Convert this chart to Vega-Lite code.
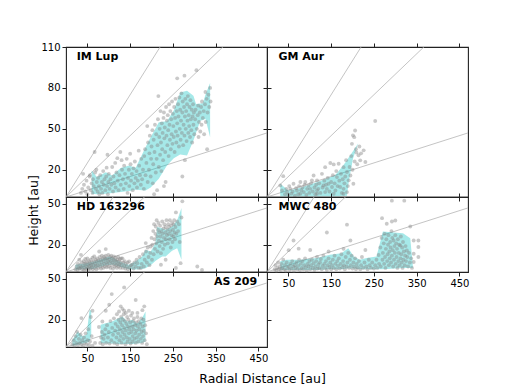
{
"$schema": "https://vega.github.io/schema/vega-lite/v6.json",
"padding": {"left": 26, "top": 41, "right": 5, "bottom": 5},
"config": {
 "font": "DejaVu Sans",
 "view": {"stroke": "#222", "strokeWidth": 1.1},
 "axis": {"domain": false, "grid": false, "tickColor": "#222", "tickSize": 4, "tickWidth": 1, "labelFontSize": 10, "labelColor": "#000", "labelPadding": 2, "labelOverlap": false, "titleFontSize": 12.5, "titleFontWeight": "normal", "titleColor": "#000"},
 "circle": {"size": 15, "color": "#888", "opacity": 0.45, "clip": true},
 "concat": {"spacing": 0}
},
"datasets": {
 "lines": [{"hr":"0.5","r":0,"h":0},{"hr":"0.5","r":470,"h":235},{"hr":"0.3","r":0,"h":0},{"hr":"0.3","r":470,"h":141},{"hr":"0.1","r":0,"h":0},{"hr":"0.1","r":470,"h":47}],
 "band": [
  {"disk":"IM Lup","seg":1,"r":60,"lo":2.4,"hi":19.5},{"disk":"IM Lup","seg":1,"r":72,"lo":2.0,"hi":14.6},{"disk":"IM Lup","seg":1,"r":93,"lo":2.4,"hi":18.2},{"disk":"IM Lup","seg":1,"r":108,"lo":3.0,"hi":15.8},{"disk":"IM Lup","seg":1,"r":128,"lo":3.7,"hi":21.2},{"disk":"IM Lup","seg":1,"r":147,"lo":4.4,"hi":23.1},{"disk":"IM Lup","seg":1,"r":163,"lo":5.3,"hi":21.5},{"disk":"IM Lup","seg":1,"r":186,"lo":4.8,"hi":36.5},{"disk":"IM Lup","seg":1,"r":198,"lo":7.0,"hi":43.8},{"disk":"IM Lup","seg":1,"r":217,"lo":13.4,"hi":54.9},{"disk":"IM Lup","seg":1,"r":236,"lo":23.1,"hi":55.6},{"disk":"IM Lup","seg":1,"r":252,"lo":28.5,"hi":63.4},{"disk":"IM Lup","seg":1,"r":267,"lo":31.2,"hi":76.7},{"disk":"IM Lup","seg":1,"r":283,"lo":30.4,"hi":78.0},{"disk":"IM Lup","seg":1,"r":298,"lo":41.4,"hi":74.3},{"disk":"IM Lup","seg":1,"r":304,"lo":47.0,"hi":68.2},{"disk":"IM Lup","seg":1,"r":314,"lo":56.0,"hi":68.5},{"disk":"IM Lup","seg":1,"r":320,"lo":56.5,"hi":68.7},{"disk":"IM Lup","seg":1,"r":326,"lo":57.3,"hi":75.0},{"disk":"IM Lup","seg":1,"r":337,"lo":43.8,"hi":83.6},
  {"disk":"GM Aur","seg":1,"r":31,"lo":0.5,"hi":9.7},{"disk":"GM Aur","seg":1,"r":50,"lo":0.5,"hi":4.8},{"disk":"GM Aur","seg":1,"r":78,"lo":0.5,"hi":6.8},{"disk":"GM Aur","seg":1,"r":116,"lo":0.5,"hi":10.9},{"disk":"GM Aur","seg":1,"r":159,"lo":0.5,"hi":15.8},{"disk":"GM Aur","seg":1,"r":178,"lo":0.8,"hi":23.1},{"disk":"GM Aur","seg":1,"r":187,"lo":1.0,"hi":27},{"disk":"GM Aur","seg":1,"r":191,"lo":10.9,"hi":29},{"disk":"GM Aur","seg":1,"r":201,"lo":28,"hi":33.5},{"disk":"GM Aur","seg":1,"r":213,"lo":39,"hi":39.2},
  {"disk":"HD 163296","seg":1,"r":22,"lo":1.7,"hi":5.3},{"disk":"HD 163296","seg":1,"r":46,"lo":2.2,"hi":6.5},{"disk":"HD 163296","seg":1,"r":62,"lo":2.2,"hi":7.5},{"disk":"HD 163296","seg":1,"r":77,"lo":3.4,"hi":9},{"disk":"HD 163296","seg":1,"r":89,"lo":4.6,"hi":10.2},{"disk":"HD 163296","seg":1,"r":101,"lo":5.3,"hi":11.4},{"disk":"HD 163296","seg":1,"r":112,"lo":5.3,"hi":10.2},{"disk":"HD 163296","seg":1,"r":124,"lo":4.1,"hi":7.8},{"disk":"HD 163296","seg":1,"r":136,"lo":3.0,"hi":6.5},{"disk":"HD 163296","seg":1,"r":147,"lo":2.0,"hi":5.3},{"disk":"HD 163296","seg":1,"r":163,"lo":1.8,"hi":7.8},{"disk":"HD 163296","seg":1,"r":178,"lo":2.2,"hi":11.4},{"disk":"HD 163296","seg":1,"r":186,"lo":2.8,"hi":16.3},{"disk":"HD 163296","seg":1,"r":198,"lo":5,"hi":15},{"disk":"HD 163296","seg":1,"r":209,"lo":8,"hi":21},{"disk":"HD 163296","seg":1,"r":213,"lo":9,"hi":33},{"disk":"HD 163296","seg":1,"r":225,"lo":11.4,"hi":32},{"disk":"HD 163296","seg":1,"r":233,"lo":11.4,"hi":31},{"disk":"HD 163296","seg":1,"r":248,"lo":15.5,"hi":33.4},{"disk":"HD 163296","seg":1,"r":260,"lo":17.5,"hi":38},{"disk":"HD 163296","seg":1,"r":270,"lo":9,"hi":47},
  {"disk":"MWC 480","seg":1,"r":31,"lo":1.5,"hi":7.8},{"disk":"MWC 480","seg":1,"r":46,"lo":1.5,"hi":9},{"disk":"MWC 480","seg":1,"r":78,"lo":1.5,"hi":9},{"disk":"MWC 480","seg":1,"r":116,"lo":1.5,"hi":10.2},{"disk":"MWC 480","seg":1,"r":147,"lo":2,"hi":12.6},{"disk":"MWC 480","seg":1,"r":174,"lo":2,"hi":13.8},{"disk":"MWC 480","seg":1,"r":190,"lo":2.5,"hi":17.5},{"disk":"MWC 480","seg":1,"r":203,"lo":2.5,"hi":11.4},{"disk":"MWC 480","seg":1,"r":217,"lo":2,"hi":9},{"disk":"MWC 480","seg":1,"r":233,"lo":2,"hi":10.2},{"disk":"MWC 480","seg":1,"r":256,"lo":2,"hi":11.4},{"disk":"MWC 480","seg":1,"r":264,"lo":2,"hi":21},{"disk":"MWC 480","seg":1,"r":271,"lo":2,"hi":29.7},{"disk":"MWC 480","seg":1,"r":318,"lo":3,"hi":28.5},{"disk":"MWC 480","seg":1,"r":335,"lo":3,"hi":24.8},{"disk":"MWC 480","seg":1,"r":341,"lo":3,"hi":4.5},
  {"disk":"AS 209","seg":1,"r":15,"lo":1,"hi":5},{"disk":"AS 209","seg":1,"r":27,"lo":1.5,"hi":11.4},{"disk":"AS 209","seg":1,"r":39,"lo":2.5,"hi":7.8},{"disk":"AS 209","seg":1,"r":48,"lo":3,"hi":9},{"disk":"AS 209","seg":1,"r":55,"lo":4,"hi":27},{"disk":"AS 209","seg":1,"r":59,"lo":9,"hi":27},
  {"disk":"AS 209","seg":2,"r":81,"lo":2.9,"hi":16.3},{"disk":"AS 209","seg":2,"r":93,"lo":2.5,"hi":17.5},{"disk":"AS 209","seg":2,"r":108,"lo":2.5,"hi":18.7},{"disk":"AS 209","seg":2,"r":124,"lo":2.2,"hi":21.2},{"disk":"AS 209","seg":2,"r":132,"lo":2.2,"hi":22.4},{"disk":"AS 209","seg":2,"r":143,"lo":2.2,"hi":18.7},{"disk":"AS 209","seg":2,"r":155,"lo":2.2,"hi":20},{"disk":"AS 209","seg":2,"r":167,"lo":2.5,"hi":17.5},{"disk":"AS 209","seg":2,"r":178,"lo":2.9,"hi":21.2},{"disk":"AS 209","seg":2,"r":186,"lo":4.1,"hi":26}
 ],
 "imlup": [{"r":35,"h":3},{"r":38,"h":6},{"r":40,"h":17},{"r":42,"h":9},{"r":45,"h":4},{"r":48,"h":12},{"r":50,"h":2},{"r":52,"h":7},{"r":55,"h":15},{"r":56,"h":16},{"r":58,"h":5},{"r":60,"h":10},{"r":62,"h":3},{"r":63,"h":13},{"r":65,"h":8},{"r":67,"h":33},{"r":68,"h":18},{"r":70,"h":6},{"r":71,"h":20},{"r":72,"h":11},{"r":74,"h":4},{"r":75,"h":14},{"r":77,"h":8},{"r":78,"h":2},{"r":80,"h":16},{"r":82,"h":6},{"r":84,"h":11},{"r":85,"h":3},{"r":87,"h":19},{"r":88,"h":9},{"r":90,"h":13},{"r":92,"h":5},{"r":94,"h":15},{"r":95,"h":21.5},{"r":96,"h":8},{"r":97,"h":31},{"r":98,"h":2},{"r":99,"h":11},
  {"r":100,"h":17},{"r":102,"h":6},{"r":104,"h":13},{"r":106,"h":9},{"r":108,"h":22},{"r":110,"h":4},{"r":111,"h":15},{"r":113,"h":10},{"r":115,"h":25},{"r":116,"h":7},{"r":118,"h":18},{"r":120,"h":28.5},{"r":121,"h":12},{"r":123,"h":5},{"r":125,"h":16},{"r":127,"h":33},{"r":128,"h":9},{"r":130,"h":27},{"r":131,"h":20},{"r":133,"h":13},{"r":135,"h":6},{"r":136,"h":23},{"r":138,"h":17},{"r":140,"h":10},{"r":142,"h":28},{"r":144,"h":3},{"r":145,"h":14},{"r":147,"h":20},{"r":148,"h":8},{"r":150,"h":31.7},{"r":151,"h":24},{"r":152,"h":12},{"r":154,"h":17},{"r":156,"h":5},{"r":158,"h":21},{"r":160,"h":10},{"r":161,"h":26},{"r":163,"h":14},{"r":165,"h":19},{"r":166,"h":7},{"r":168,"h":12},{"r":170,"h":34},{"r":171,"h":23},{"r":173,"h":16},{"r":175,"h":9},{"r":176,"h":28},{"r":178,"h":13},{"r":180,"h":20},
  {"r":182,"h":6},{"r":183,"h":30},{"r":185,"h":35},{"r":186,"h":16},{"r":188,"h":25},{"r":190,"h":52},{"r":191,"h":11},{"r":192,"h":40},{"r":194,"h":20},{"r":195,"h":32},{"r":196,"h":45},{"r":198,"h":15},{"r":199,"h":28},{"r":200,"h":37},{"r":202,"h":49},{"r":203,"h":10},{"r":204,"h":24},{"r":205,"h":42},{"r":206,"h":2},{"r":207,"h":33},{"r":208,"h":53},{"r":210,"h":18},{"r":211,"h":46},{"r":212,"h":28},{"r":213,"h":5},{"r":214,"h":38},{"r":215,"h":57},{"r":216,"h":74},{"r":217,"h":22},{"r":218,"h":44},{"r":219,"h":50},{"r":220,"h":31},
  {"r":221,"h":63},{"r":222,"h":40},{"r":223,"h":19},{"r":224,"h":54},{"r":225,"h":35},{"r":226,"h":47},{"r":227,"h":27},{"r":228,"h":58},{"r":229,"h":8},{"r":229,"h":62},{"r":230,"h":43},{"r":231,"h":51},{"r":232,"h":33},{"r":233,"h":11},{"r":234,"h":66},{"r":235,"h":45},{"r":236,"h":56},{"r":237,"h":38},{"r":238,"h":60},{"r":239,"h":49},{"r":240,"h":30},{"r":241,"h":68},{"r":242,"h":53},{"r":243,"h":42},{"r":244,"h":63},{"r":245,"h":35},{"r":246,"h":57},{"r":247,"h":46},{"r":248,"h":70},{"r":249,"h":39},{"r":250,"h":61},{"r":251,"h":52},{"r":252,"h":44},{"r":253,"h":66},{"r":254,"h":33},{"r":255,"h":58},{"r":256,"h":72},{"r":257,"h":48},{"r":258,"h":40},{"r":259,"h":63},{"r":260,"h":87},{"r":260,"h":54},
  {"r":261,"h":45},{"r":262,"h":68},{"r":263,"h":59},{"r":264,"h":37},{"r":265,"h":73},{"r":266,"h":50},{"r":267,"h":64},{"r":268,"h":42},{"r":269,"h":56},{"r":270,"h":76},{"r":271,"h":47},{"r":272,"h":15},{"r":272,"h":62},{"r":273,"h":70},{"r":274,"h":38},{"r":275,"h":53},{"r":276,"h":66},{"r":277,"h":89},{"r":277,"h":45},{"r":278,"h":27},{"r":278,"h":59},{"r":279,"h":72},{"r":280,"h":50},{"r":281,"h":63},{"r":282,"h":41},{"r":283,"h":68},{"r":284,"h":56},{"r":285,"h":74},{"r":286,"h":47},{"r":287,"h":60},{"r":288,"h":52},{"r":289,"h":66},{"r":290,"h":44},{"r":291,"h":71},{"r":292,"h":57},{"r":293,"h":49},{"r":294,"h":64},{"r":295,"h":40},{"r":296,"h":59},{"r":297,"h":68},{"r":298,"h":53},{"r":299,"h":62},{"r":300,"h":46},
  {"r":302,"h":57},{"r":303,"h":64},{"r":305,"h":93},{"r":306,"h":50},{"r":308,"h":60},{"r":309,"h":67},{"r":310,"h":44},{"r":311,"h":55},{"r":313,"h":62},{"r":314,"h":48},{"r":316,"h":66},{"r":317,"h":53},{"r":318,"h":70},{"r":320,"h":58},{"r":322,"h":63},{"r":323,"h":46},{"r":325,"h":68},{"r":326,"h":77},{"r":327,"h":55},{"r":329,"h":72},{"r":330,"h":35},{"r":331,"h":62},{"r":333,"h":75},{"r":335,"h":66},{"r":337,"h":80},{"r":338,"h":70}],
 "gmaur": [{"r":31,"h":8.5},{"r":35,"h":4.8},{"r":38,"h":15.3},{"r":42,"h":2},{"r":45,"h":6},{"r":47,"h":3.6},{"r":50,"h":1.5},{"r":52,"h":8},{"r":54.5,"h":6},{"r":57,"h":2.5},{"r":60,"h":4},{"r":62,"h":9.7},{"r":65,"h":1},{"r":68,"h":6.5},{"r":70,"h":4.8},{"r":73,"h":2},{"r":75,"h":8},{"r":78,"h":11},{"r":78,"h":2.4},{"r":80,"h":5},{"r":83,"h":7},{"r":86,"h":3.6},{"r":88,"h":9},{"r":89.6,"h":11},{"r":92,"h":1.5},{"r":94,"h":6},{"r":97,"h":8.5},{"r":99,"h":3},{"r":101,"h":6},{"r":103,"h":10},{"r":105,"h":12.2},{"r":107,"h":4},{"r":109,"h":15.8},{"r":111,"h":7},{"r":113,"h":2},{"r":115,"h":9},{"r":117,"h":12.2},{"r":117,"h":4.8},{"r":117,"h":2.4},{"r":120,"h":6},{"r":122,"h":10},{"r":125,"h":3},{"r":128.5,"h":17},{"r":130,"h":7},{"r":132,"h":8.5},{"r":134,"h":12},{"r":136,"h":21.9},{"r":136,"h":3.6},{"r":138,"h":9},{"r":140,"h":6},{"r":142,"h":14},{"r":144,"h":9.7},{"r":146,"h":4},{"r":148,"h":24.9},{"r":150,"h":11},{"r":152,"h":7.3},{"r":154,"h":16},{"r":156,"h":23.9},{"r":156,"h":2.4},{"r":158,"h":10},{"r":160,"h":4.8},{"r":162,"h":19},{"r":163.6,"h":14.6},{"r":165,"h":8},{"r":167.5,"h":24.4},{"r":169,"h":12},{"r":171,"h":7.3},{"r":173,"h":17},{"r":175,"h":3},{"r":177,"h":13},{"r":179,"h":21.9},{"r":179,"h":6},{"r":179,"h":2.4},{"r":181,"h":10},{"r":183,"h":15},{"r":185,"h":27},{"r":187,"h":18.3},{"r":187,"h":3.6},{"r":189,"h":8},{"r":191,"h":12.2},{"r":193,"h":22},{"r":195,"h":15.8},{"r":197,"h":30},{"r":198.6,"h":39},{"r":200,"h":20},{"r":201,"h":45.2},{"r":202,"h":9.7},{"r":204,"h":43.9},{"r":205,"h":26},{"r":206,"h":48.8},{"r":208,"h":35},{"r":209,"h":32.6},{"r":211,"h":24},{"r":214,"h":30.6},{"r":216,"h":37},{"r":218,"h":26.9},{"r":220,"h":32},{"r":226,"h":34.2},{"r":230,"h":25.7},{"r":253,"h":55.7}],
 "hd": [{"r":22,"h":2},{"r":25,"h":4},{"r":27,"h":1.5},{"r":28,"h":6},{"r":30,"h":3},{"r":31,"h":9},{"r":32,"h":2.5},{"r":33,"h":5},{"r":35,"h":12.6},{"r":35,"h":3.5},{"r":37,"h":7},{"r":38,"h":2},{"r":40,"h":4.5},{"r":41,"h":8},{"r":42,"h":1.5},{"r":43,"h":6},{"r":44,"h":3},{"r":45,"h":9.5},{"r":46,"h":6.5},{"r":47,"h":2},{"r":48,"h":4},{"r":49,"h":7.5},{"r":50,"h":10},{"r":51,"h":3},{"r":52,"h":5.5},{"r":53,"h":1.8},{"r":54,"h":8},{"r":55,"h":4},{"r":56,"h":6.5},{"r":57,"h":2.5},{"r":58,"h":9},{"r":59,"h":5},{"r":60,"h":3.5},{"r":61,"h":7},{"r":62,"h":10.5},{"r":63,"h":2},{"r":64,"h":5},{"r":65,"h":8},{"r":66,"h":11.4},{"r":67,"h":3},{"r":68,"h":6},{"r":69,"h":9},{"r":70,"h":4.5},{"r":71,"h":2},{"r":72,"h":7.5},{"r":73,"h":10},{"r":74,"h":5},{"r":75,"h":3},{"r":76,"h":8.5},{"r":77.6,"h":15},{"r":78,"h":6},{"r":79,"h":11},{"r":80,"h":4},{"r":81,"h":9},{"r":82,"h":2.5},{"r":83,"h":7},{"r":84,"h":12},{"r":85,"h":5},{"r":86,"h":10},{"r":87,"h":3},{"r":88,"h":8},{"r":89,"h":11},{"r":90,"h":6},{"r":91,"h":4},{"r":92,"h":9.5},{"r":93,"h":16.8},{"r":93,"h":12},{"r":94,"h":7},{"r":95,"h":3.5},{"r":96,"h":10},{"r":97,"h":5.5},{"r":98,"h":8},{"r":99,"h":12.5},{"r":100,"h":4},{"r":101,"h":9},{"r":102,"h":6.5},{"r":103,"h":11},{"r":104,"h":3},{"r":105,"h":8},{"r":106,"h":12},{"r":107,"h":5},{"r":108,"h":10},{"r":109,"h":7},{"r":110,"h":2.5},{"r":111,"h":9},{"r":112,"h":11.5},{"r":113,"h":6},{"r":114,"h":4},{"r":115,"h":8.5},{"r":116,"h":10.5},{"r":117,"h":5},{"r":118,"h":7.5},{"r":119,"h":3},{"r":120,"h":9},{"r":121,"h":6},{"r":122,"h":11},{"r":123,"h":4},{"r":124,"h":8},{"r":125,"h":5.5},{"r":126,"h":9.5},{"r":127,"h":3},{"r":128,"h":7},{"r":129,"h":10},{"r":130,"h":5},{"r":132,"h":10},{"r":133,"h":3},{"r":134,"h":7},{"r":136,"h":4.5},{"r":137,"h":8},{"r":139,"h":2.5},{"r":140,"h":6},{"r":142,"h":4},{"r":144,"h":7},{"r":145,"h":2},{"r":147.5,"h":7.8},{"r":149,"h":3.5},{"r":152,"h":5},{"r":155,"h":5.3},{"r":158,"h":2.5},{"r":160,"h":7},{"r":163,"h":4},{"r":165,"h":9},{"r":167,"h":6.5},{"r":170,"h":3},{"r":172,"h":11},{"r":175,"h":2.9},{"r":177,"h":6},{"r":180,"h":13},{"r":182,"h":4},{"r":184,"h":9},{"r":186.5,"h":21.2},{"r":187,"h":15},{"r":189,"h":7},{"r":191,"h":18},{"r":193,"h":11},{"r":195,"h":5},{"r":197,"h":14},{"r":198,"h":18.7},{"r":200,"h":25},{"r":201,"h":9},{"r":202,"h":20},{"r":204,"h":30},{"r":205,"h":13},{"r":206,"h":35},{"r":207,"h":24},{"r":208,"h":17},{"r":209,"h":28},{"r":210,"h":33.4},{"r":211,"h":21},{"r":212,"h":38},{"r":213,"h":26},{"r":214,"h":15},{"r":215,"h":31},{"r":216,"h":36},{"r":217,"h":23},{"r":218,"h":29},{"r":219,"h":19},{"r":220,"h":34},{"r":221,"h":26},{"r":222,"h":13.8},{"r":222,"h":5.3},{"r":223,"h":30},{"r":224,"h":22},{"r":225,"h":37},{"r":226,"h":28},{"r":227,"h":17},{"r":228,"h":32},{"r":229,"h":25},{"r":230,"h":35},{"r":231,"h":20},{"r":232,"h":29},{"r":233,"h":9},{"r":233,"h":33},{"r":234,"h":24},{"r":235,"h":38},{"r":236,"h":27},{"r":237,"h":31},{"r":238,"h":21},{"r":239,"h":35},{"r":240,"h":28},{"r":241,"h":33},{"r":242,"h":24},{"r":243,"h":38},{"r":244,"h":30},{"r":245,"h":18},{"r":246,"h":34},{"r":247,"h":27},{"r":248,"h":36},{"r":249,"h":22},{"r":250,"h":31},{"r":251,"h":26},{"r":252,"h":35},{"r":253,"h":38},{"r":254,"h":29},{"r":255,"h":24},{"r":256,"h":33},{"r":257,"h":43.7},{"r":257,"h":2.9},{"r":258,"h":28},{"r":260,"h":37},{"r":262,"h":30},{"r":264,"h":35},{"r":266,"h":22},{"r":268,"h":6.5},{"r":270,"h":40},{"r":272,"h":51.8},{"r":307,"h":4},{"r":318,"h":1.5}],
 "mwc": [{"r":18,"h":2},{"r":20,"h":5},{"r":22,"h":1},{"r":24,"h":3},{"r":26,"h":7},{"r":28,"h":2},{"r":30,"h":4},{"r":32,"h":1.5},{"r":34,"h":6},{"r":36,"h":3},{"r":38,"h":9},{"r":40,"h":2},{"r":42,"h":5},{"r":44,"h":1},{"r":46,"h":7},{"r":48,"h":3},{"r":50.6,"h":16},{"r":51,"h":4},{"r":53,"h":1.5},{"r":55,"h":6},{"r":57,"h":2.5},{"r":59,"h":8},{"r":61,"h":4},{"r":62,"h":23.1},{"r":63,"h":1},{"r":65,"h":5},{"r":67,"h":3},{"r":69,"h":7},{"r":71,"h":2},{"r":73,"h":4.5},{"r":74,"h":17.1},{"r":75,"h":9},{"r":77,"h":1.5},{"r":79,"h":6},{"r":81,"h":3},{"r":83,"h":8},{"r":85,"h":2},{"r":87,"h":5},{"r":89,"h":10},{"r":91,"h":3.5},{"r":93,"h":1},{"r":95,"h":6},{"r":97,"h":4},{"r":99,"h":8},{"r":101,"h":16.1},{"r":101,"h":2},{"r":103,"h":5},{"r":105,"h":9},{"r":107,"h":3},{"r":109,"h":6.5},{"r":111,"h":1.5},{"r":113,"h":4},{"r":115,"h":8},{"r":117,"h":11},{"r":118,"h":2.5},{"r":120,"h":5.5},{"r":122,"h":3},{"r":124,"h":7},{"r":126,"h":9.5},{"r":128,"h":2},{"r":130,"h":4.5},{"r":132,"h":12},{"r":134,"h":6},{"r":136,"h":3},{"r":138,"h":8},{"r":140,"h":29},{"r":140,"h":1.5},{"r":142,"h":5},{"r":144,"h":15},{"r":144,"h":10},{"r":146,"h":3.5},{"r":148,"h":7},{"r":150,"h":2},{"r":152,"h":5},{"r":154,"h":9},{"r":156,"h":3},{"r":158,"h":12},{"r":160,"h":6},{"r":162,"h":2},{"r":164,"h":8},{"r":166,"h":4.5},{"r":168,"h":10},{"r":170,"h":2.5},{"r":172,"h":6},{"r":174,"h":13},{"r":176,"h":3.5},{"r":178,"h":8},{"r":179,"h":17},{"r":180,"h":5},{"r":182,"h":2},{"r":184,"h":11},{"r":186,"h":4},{"r":187,"h":34.7},{"r":188,"h":7},{"r":190,"h":14},{"r":192,"h":3},{"r":194,"h":9},{"r":195,"h":23.1},{"r":196,"h":5},{"r":198,"h":12},{"r":200,"h":2.5},{"r":202,"h":7},{"r":204,"h":4},{"r":206,"h":10},{"r":208,"h":2},{"r":210,"h":6},{"r":212,"h":3.5},{"r":215,"h":8},{"r":218,"h":2},{"r":220,"h":5},{"r":222,"h":11},{"r":225,"h":3},{"r":228,"h":7},{"r":230,"h":16.1},{"r":232,"h":4},{"r":235,"h":2},{"r":238,"h":9},{"r":240,"h":5},{"r":243,"h":3},{"r":246,"h":7},{"r":250,"h":2.5},{"r":253,"h":5},{"r":256,"h":9},{"r":258,"h":3},{"r":261,"h":12.5},{"r":262,"h":6},
  {"r":265,"h":18},{"r":266,"h":4},{"r":268,"h":25},{"r":269,"h":39.5},{"r":270,"h":9},{"r":271,"h":14},{"r":273,"h":21},{"r":274,"h":6},{"r":275,"h":28},{"r":276,"h":11},{"r":277,"h":3},{"r":278,"h":17},{"r":279,"h":24},{"r":280,"h":35.4},{"r":281,"h":8},{"r":282,"h":13},{"r":283,"h":20},{"r":284,"h":27},{"r":285,"h":5},{"r":286,"h":15},{"r":287,"h":10},{"r":288,"h":22},{"r":289,"h":18},{"r":290,"h":7},{"r":291,"h":30},{"r":292,"h":52.3},{"r":292,"h":37},{"r":292,"h":12},{"r":293,"h":25},{"r":294,"h":16},{"r":295,"h":4},{"r":296,"h":23.1},{"r":297,"h":9},{"r":298,"h":19},{"r":299,"h":14},{"r":300,"h":37.8},{"r":300,"h":27},{"r":301,"h":6},{"r":302,"h":21},{"r":303,"h":11},{"r":304,"h":17},{"r":305,"h":3},{"r":306,"h":24},{"r":307,"h":8},{"r":308,"h":14},{"r":309,"h":20},{"r":310,"h":5},{"r":311.5,"h":19.5},{"r":312,"h":10},{"r":313,"h":26},{"r":314,"h":13},{"r":315,"h":7},{"r":316,"h":18},{"r":317,"h":3},{"r":318,"h":22},{"r":319,"h":9},{"r":320,"h":15},{"r":321,"h":52.3},{"r":322,"h":5},{"r":323,"h":12},{"r":324,"h":19},{"r":325,"h":8},{"r":327,"h":15.8},{"r":328,"h":11},{"r":330,"h":4},{"r":332,"h":14},{"r":334,"h":7},{"r":335,"h":33.4},{"r":337,"h":10},{"r":339,"h":3},{"r":343,"h":23.1},{"r":343,"h":13.4},{"r":343,"h":7.3},{"r":354,"h":23.1},{"r":354,"h":18.3},{"r":354,"h":11}],
 "as": [{"r":15,"h":2},{"r":18,"h":5},{"r":20,"h":1},{"r":22,"h":8},{"r":24,"h":3},{"r":26,"h":11},{"r":28,"h":1.5},{"r":30,"h":6},{"r":32,"h":3},{"r":34,"h":9},{"r":36,"h":21.2},{"r":36,"h":2},{"r":38,"h":5},{"r":40,"h":1},{"r":42,"h":7},{"r":44,"h":3},{"r":46,"h":10},{"r":48,"h":2},{"r":50,"h":5},{"r":52,"h":13},{"r":54,"h":1.5},{"r":56,"h":4},{"r":58,"h":22},{"r":60,"h":8},{"r":62,"h":26.6},{"r":62,"h":1},{"r":68,"h":3},
  {"r":77,"h":14.7},{"r":80,"h":3},{"r":82,"h":7},{"r":84,"h":11},{"r":85,"h":18.7},{"r":86,"h":2},{"r":88,"h":6},{"r":90,"h":9},{"r":92,"h":13},{"r":93,"h":26.6},{"r":94,"h":3},{"r":96,"h":16},{"r":98,"h":7},{"r":100,"h":11},{"r":101,"h":31},{"r":102,"h":2.5},{"r":104,"h":19},{"r":106,"h":5},{"r":107,"h":38.8},{"r":108,"h":14},{"r":110,"h":9},{"r":112,"h":21},{"r":113,"h":3},{"r":115,"h":12},{"r":116,"h":17},{"r":118,"h":7},{"r":119,"h":24},{"r":120,"h":2},{"r":121,"h":15},{"r":122,"h":10},{"r":123,"h":20},{"r":124,"h":26},{"r":125,"h":5},{"r":126,"h":13},{"r":127,"h":18},{"r":128,"h":29.8},{"r":128,"h":8},{"r":129,"h":22},{"r":130,"h":3},{"r":131,"h":16},{"r":132,"h":28},{"r":132,"h":11},{"r":133,"h":20},{"r":134,"h":6},{"r":135,"h":24},{"r":136,"h":43.7},{"r":136,"h":26.6},{"r":136,"h":14},{"r":137,"h":9},{"r":138,"h":19},{"r":139,"h":2},{"r":140,"h":25},{"r":140,"h":12},{"r":141,"h":17},{"r":142,"h":7},{"r":143,"h":22},{"r":144,"h":4},{"r":145,"h":15},{"r":146,"h":20},{"r":147,"h":26.6},{"r":147,"h":10},{"r":148,"h":13},{"r":149,"h":6},{"r":150,"h":18},{"r":151,"h":2.5},{"r":152,"h":23},{"r":153,"h":11},{"r":154,"h":15},{"r":155,"h":25},{"r":155,"h":4},{"r":156,"h":8},{"r":157,"h":19},{"r":158,"h":13},{"r":159,"h":21},{"r":160,"h":6},{"r":161,"h":16},{"r":162,"h":10},{"r":163,"h":34.5},{"r":163,"h":3},{"r":164,"h":18},{"r":165,"h":12},{"r":166,"h":7},{"r":167,"h":25},{"r":167,"h":22},{"r":168,"h":15},{"r":169,"h":4},{"r":170,"h":19},{"r":171,"h":9},{"r":172,"h":13},{"r":174,"h":17},{"r":175,"h":6},{"r":176,"h":21},{"r":177,"h":11},{"r":178.6,"h":27},{"r":178,"h":3},{"r":179,"h":15},{"r":180,"h":8},{"r":181,"h":20},{"r":182,"h":12},{"r":183,"h":29.8},{"r":184,"h":5},{"r":185,"h":16},{"r":187,"h":10},{"r":189,"h":2}]
},
"bounds": "flush",
"spacing": 0,
"columns": 2,
"concat": [
 {"width": 201, "height": 150,
  "layer": [
   {"data": {"name": "lines"}, "mark": {"type": "line", "clip": true, "color": "#b5b5b5", "strokeWidth": 0.8},
    "encoding": {"x": {"field": "r", "type": "quantitative", "scale": {"domain": [0, 470], "nice": false}, "axis": {"orient": "bottom", "values": [50,150,250,350,450], "labels": false, "title": null}},
                 "y": {"field": "h", "type": "quantitative", "scale": {"domain": [0, 110], "nice": false}, "axis": {"orient": "left", "values": [20,50,80,110], "title": null}},
                 "detail": {"field": "hr"}}},
   {"data": {"name": "band"}, "transform": [{"filter": "datum.disk == 'IM Lup'"}], "mark": {"type": "area", "clip": true, "color": "#00bfbf", "opacity": 0.35},
    "encoding": {"x": {"field": "r", "type": "quantitative", "scale": {"domain": [0, 470], "nice": false}, "axis": {"orient": "top", "values": [50,150,250,350,450], "labels": false, "title": null}},
                 "y": {"field": "lo", "type": "quantitative", "scale": {"domain": [0, 110], "nice": false}, "axis": {"orient": "right", "values": [20,50,80,110], "labels": false, "title": null}},
                 "y2": {"field": "hi"}, "detail": {"field": "seg"}}},
   {"data": {"name": "imlup"}, "mark": {"type": "circle"},
    "encoding": {"x": {"field": "r", "type": "quantitative", "axis": null}, "y": {"field": "h", "type": "quantitative", "axis": null}}},
   {"data": {"values": [{"name": "IM Lup"}]}, "mark": {"type": "text", "fontWeight": "bold", "fontSize": 11, "align": "left", "baseline": "middle"},
    "encoding": {"x": {"datum": 25, "type": "quantitative", "axis": null}, "y": {"datum": 102.6, "type": "quantitative", "axis": null}, "text": {"field": "name"}}}
  ],
  "resolve": {"axis": {"x": "independent", "y": "independent"}}},
 {"width": 201, "height": 150,
  "layer": [
   {"data": {"name": "lines"}, "mark": {"type": "line", "clip": true, "color": "#b5b5b5", "strokeWidth": 0.8},
    "encoding": {"x": {"field": "r", "type": "quantitative", "scale": {"domain": [0, 470], "nice": false}, "axis": {"orient": "bottom", "values": [50,150,250,350,450], "labels": false, "title": null}},
                 "y": {"field": "h", "type": "quantitative", "scale": {"domain": [0, 110], "nice": false}, "axis": {"orient": "left", "values": [20,50,80,110], "labels": false, "title": null}},
                 "detail": {"field": "hr"}}},
   {"data": {"name": "band"}, "transform": [{"filter": "datum.disk == 'GM Aur'"}], "mark": {"type": "area", "clip": true, "color": "#00bfbf", "opacity": 0.35},
    "encoding": {"x": {"field": "r", "type": "quantitative", "scale": {"domain": [0, 470], "nice": false}, "axis": {"orient": "top", "values": [50,150,250,350,450], "labels": false, "title": null}},
                 "y": {"field": "lo", "type": "quantitative", "scale": {"domain": [0, 110], "nice": false}, "axis": null},
                 "y2": {"field": "hi"}, "detail": {"field": "seg"}}},
   {"data": {"name": "gmaur"}, "mark": {"type": "circle"},
    "encoding": {"x": {"field": "r", "type": "quantitative", "axis": null}, "y": {"field": "h", "type": "quantitative", "axis": null}}},
   {"data": {"values": [{"name": "GM Aur"}]}, "mark": {"type": "text", "fontWeight": "bold", "fontSize": 11, "align": "left", "baseline": "middle"},
    "encoding": {"x": {"datum": 27, "type": "quantitative", "axis": null}, "y": {"datum": 102.6, "type": "quantitative", "axis": null}, "text": {"field": "name"}}}
  ],
  "resolve": {"axis": {"x": "independent", "y": "independent"}}},
 {"width": 201, "height": 75,
  "layer": [
   {"data": {"name": "lines"}, "mark": {"type": "line", "clip": true, "color": "#b5b5b5", "strokeWidth": 0.8},
    "encoding": {"x": {"field": "r", "type": "quantitative", "scale": {"domain": [0, 470], "nice": false}, "axis": {"orient": "bottom", "values": [50,150,250,350,450], "labels": false, "title": null}},
                 "y": {"field": "h", "type": "quantitative", "scale": {"domain": [0, 55], "nice": false}, "axis": {"orient": "left", "values": [20,50], "title": "Height [au]", "titleX": -33, "titleY": 13, "titleBaseline": "middle"}},
                 "detail": {"field": "hr"}}},
   {"data": {"name": "band"}, "transform": [{"filter": "datum.disk == 'HD 163296'"}], "mark": {"type": "area", "clip": true, "color": "#00bfbf", "opacity": 0.35},
    "encoding": {"x": {"field": "r", "type": "quantitative", "scale": {"domain": [0, 470], "nice": false}, "axis": {"orient": "top", "values": [50,150,250,350,450], "labels": false, "title": null}},
                 "y": {"field": "lo", "type": "quantitative", "scale": {"domain": [0, 55], "nice": false}, "axis": {"orient": "right", "values": [20,50], "labels": false, "title": null}},
                 "y2": {"field": "hi"}, "detail": {"field": "seg"}}},
   {"data": {"name": "hd"}, "mark": {"type": "circle"},
    "encoding": {"x": {"field": "r", "type": "quantitative", "axis": null}, "y": {"field": "h", "type": "quantitative", "axis": null}}},
   {"data": {"values": [{"name": "HD 163296"}]}, "mark": {"type": "text", "fontWeight": "bold", "fontSize": 11, "align": "left", "baseline": "middle"},
    "encoding": {"x": {"datum": 25, "type": "quantitative", "axis": null}, "y": {"datum": 47.6, "type": "quantitative", "axis": null}, "text": {"field": "name"}}}
  ],
  "resolve": {"axis": {"x": "independent", "y": "independent"}}},
 {"width": 201, "height": 75,
  "layer": [
   {"data": {"name": "lines"}, "mark": {"type": "line", "clip": true, "color": "#b5b5b5", "strokeWidth": 0.8},
    "encoding": {"x": {"field": "r", "type": "quantitative", "scale": {"domain": [0, 470], "nice": false}, "axis": {"orient": "bottom", "values": [50,150,250,350,450], "title": null}},
                 "y": {"field": "h", "type": "quantitative", "scale": {"domain": [0, 55], "nice": false}, "axis": {"orient": "left", "values": [20,50], "labels": false, "title": null}},
                 "detail": {"field": "hr"}}},
   {"data": {"name": "band"}, "transform": [{"filter": "datum.disk == 'MWC 480'"}], "mark": {"type": "area", "clip": true, "color": "#00bfbf", "opacity": 0.35},
    "encoding": {"x": {"field": "r", "type": "quantitative", "scale": {"domain": [0, 470], "nice": false}, "axis": {"orient": "top", "values": [50,150,250,350,450], "labels": false, "title": null}},
                 "y": {"field": "lo", "type": "quantitative", "scale": {"domain": [0, 55], "nice": false}, "axis": null},
                 "y2": {"field": "hi"}, "detail": {"field": "seg"}}},
   {"data": {"name": "mwc"}, "mark": {"type": "circle"},
    "encoding": {"x": {"field": "r", "type": "quantitative", "axis": null}, "y": {"field": "h", "type": "quantitative", "axis": null}}},
   {"data": {"values": [{"name": "MWC 480"}]}, "mark": {"type": "text", "fontWeight": "bold", "fontSize": 11, "align": "left", "baseline": "middle"},
    "encoding": {"x": {"datum": 27, "type": "quantitative", "axis": null}, "y": {"datum": 47.6, "type": "quantitative", "axis": null}, "text": {"field": "name"}}}
  ],
  "resolve": {"axis": {"x": "independent", "y": "independent"}}},
 {"width": 201, "height": 75,
  "layer": [
   {"data": {"name": "lines"}, "mark": {"type": "line", "clip": true, "color": "#b5b5b5", "strokeWidth": 0.8},
    "encoding": {"x": {"field": "r", "type": "quantitative", "scale": {"domain": [0, 470], "nice": false}, "axis": {"orient": "bottom", "values": [50,150,250,350,450], "title": "Radial Distance [au]", "titleX": 196, "titleY": 31, "titleBaseline": "middle"}},
                 "y": {"field": "h", "type": "quantitative", "scale": {"domain": [0, 55], "nice": false}, "axis": {"orient": "left", "values": [20,50], "title": null}},
                 "detail": {"field": "hr"}}},
   {"data": {"name": "band"}, "transform": [{"filter": "datum.disk == 'AS 209'"}], "mark": {"type": "area", "clip": true, "color": "#00bfbf", "opacity": 0.35},
    "encoding": {"x": {"field": "r", "type": "quantitative", "scale": {"domain": [0, 470], "nice": false}, "axis": {"orient": "top", "values": [50,150,250,350,450], "labels": false, "title": null}},
                 "y": {"field": "lo", "type": "quantitative", "scale": {"domain": [0, 55], "nice": false}, "axis": {"orient": "right", "values": [20,50], "labels": false, "title": null}},
                 "y2": {"field": "hi"}, "detail": {"field": "seg"}}},
   {"data": {"name": "as"}, "mark": {"type": "circle"},
    "encoding": {"x": {"field": "r", "type": "quantitative", "axis": null}, "y": {"field": "h", "type": "quantitative", "axis": null}}},
   {"data": {"values": [{"name": "AS 209"}]}, "mark": {"type": "text", "fontWeight": "bold", "fontSize": 11, "align": "right", "baseline": "middle"},
    "encoding": {"x": {"datum": 447, "type": "quantitative", "axis": null}, "y": {"datum": 47.6, "type": "quantitative", "axis": null}, "text": {"field": "name"}}}
  ],
  "resolve": {"axis": {"x": "independent", "y": "independent"}}}
]
}
